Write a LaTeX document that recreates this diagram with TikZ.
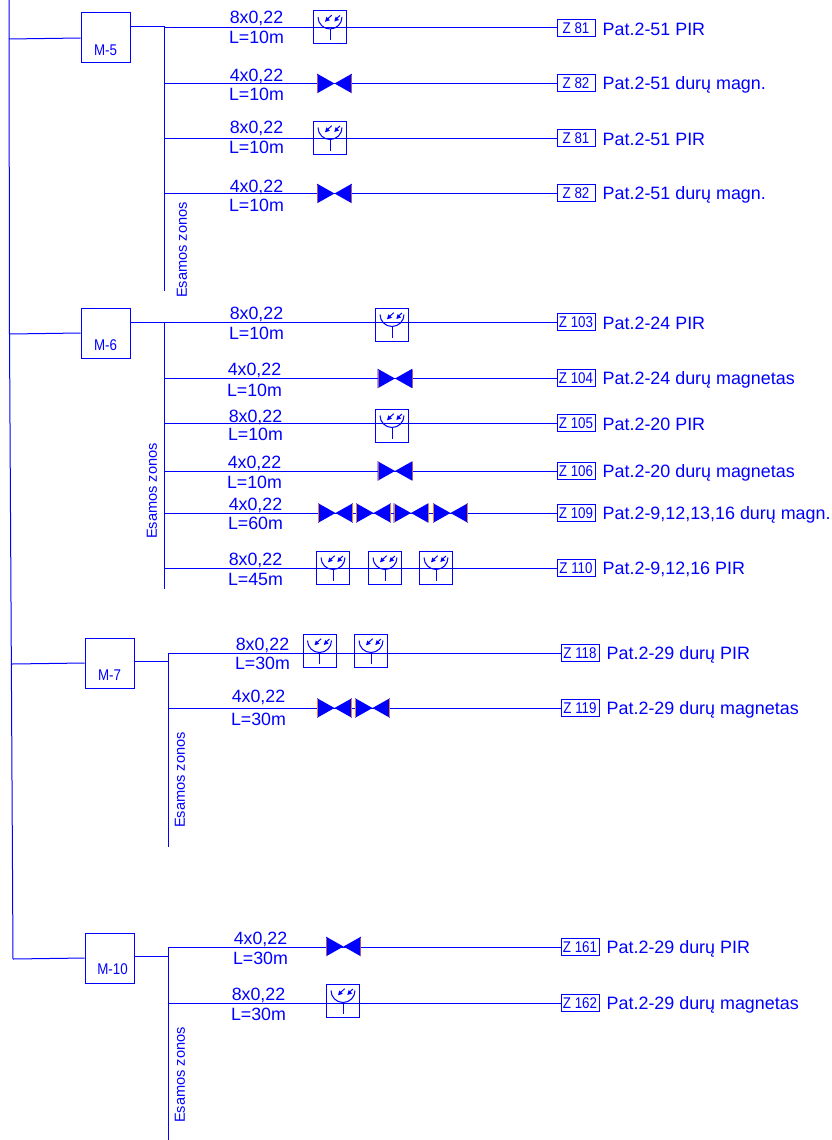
\documentclass[tikz,border=0pt]{standalone}
\usepackage{fontspec}
\setmainfont{Liberation Sans}
\newfontfamily\narrowcad[FakeStretch=0.86]{Liberation Sans}
\definecolor{cad}{RGB}{0,0,255}
\definecolor{edgeo}{RGB}{235,130,50}
\definecolor{edgeb}{RGB}{170,90,120}
\tikzset{
 wire/.style={draw=cad,line width=1pt},
 panel/.style={draw=cad,line width=1pt,minimum width=49pt,minimum height=50pt,inner sep=0pt},
 panellab/.style={text=cad,font=\narrowcad\fontsize{15.5}{15.5}\selectfont,inner sep=0pt},
 zone/.style={draw=cad,line width=1pt,minimum width=38pt,minimum height=17pt,inner sep=0pt,text=cad,font=\narrowcad\fontsize{15.5}{15.5}\selectfont},
 desc/.style={text=cad,anchor=west,inner sep=0pt,yshift=-1.5pt,font=\fontsize{17.9}{17.9}\selectfont},
 wlab/.style={text=cad,inner sep=0pt,yshift=-1.3pt,xshift=0.5pt,font=\fontsize{17.8}{17.8}\selectfont},
 vlab/.style={text=cad,inner sep=0pt,rotate=90,font=\fontsize{14.6}{14.6}\selectfont},
 pirbox/.style={draw=cad,line width=1pt,minimum size=33pt,inner sep=0pt},
}
% #1 name, #2 x, #3 y
\newcommand{\pirsym}[3]{%
 \node[pirbox] (#1) at (#2,#3) {};
 \begin{scope}[shift={(#2,#3)}]
  \draw[wire] (-12,-10.5) arc[start angle=180,end angle=0,radius=12];
  \draw[wire] (0,1.5) -- (0,13);
  \fill[cad] (-5,-5.7) -- (-3.6,-10.6) -- (-0.2,-7.2) -- cycle;
  \fill[cad] (4.3,-6) -- (5.7,-10.9) -- (9.1,-7.5) -- cycle;
  \draw[wire] (-3,-8) -- (1.7,-12.3);
  \draw[wire] (6,-8.5) -- (10,-12);
 \end{scope}}
% #1 name, #2 x, #3 y, #4 edge colour
\newcommand{\valvesym}[4]{%
 \coordinate (#1) at (#2,#3);
 \begin{scope}[shift={(#2,#3)}]
  \fill[cad] (-17.4,-9.8) -- (0,0) -- (-17.4,9.8) -- cycle;
  \fill[cad] (17.4,-9.8) -- (0,0) -- (17.4,9.8) -- cycle;
  \draw[#4,line width=0.9pt] (-17,-9) -- (-17,9);
  \draw[#4,line width=0.9pt] (17,-9) -- (17,9);
 \end{scope}}
% #1 row id, #2 bus x, #3 y, #4 zone x, #5 zone text, #6 description
\newcommand{\zonerow}[6]{%
 \coordinate (c#1) at (#2,#3);
 \node[zone] (z#1) at (#4,#3) {#5};
 \node[desc] (d#1) at ([xshift=7pt]z#1.east) {#6};
 \draw[wire] (c#1) -- (z#1.west);}
% #1 row id, #2 x, #3 y top, #4 y bottom, #5 top, #6 bottom
\newcommand{\wirelab}[6]{%
 \node[wlab] (t#1) at (#2,#3) {#5};
 \node[wlab] (b#1) at (#2,#4) {#6};}
\begin{document}
\begin{tikzpicture}[x=1pt,y=-1pt]
\useasboundingbox (0,0) rectangle (831,1140);
% main riser
\coordinate (rtop) at (9,0);
\coordinate (r5) at (9,39);
\coordinate (r6) at (9.5,334);
\coordinate (r7) at (12,664);
\coordinate (r10) at (13,959);
\draw[wire] (rtop) -- (r6) -- (r10);
% panels
\node[panel] (m5) at (105.5,38) {};
\node[panel] (m6) at (105.5,333) {};
\node[panel] (m7) at (109.5,663) {};
\node[panel] (m10) at (109.5,958) {};
\node[panellab] (lm5) at (105.5,50.5) {M-5};
\node[panellab] (lm6) at (105.5,345) {M-6};
\node[panellab] (lm7) at (109.5,675) {M-7};
\node[panellab] (lm10) at (112.5,969.5) {M-10};
\draw[wire] (r5) -- (m5.west);
\draw[wire] (r6) -- (m6.west);
\draw[wire] (r7) -- (m7.west);
\draw[wire] (r10) -- (m10.west);
% buses
\coordinate (b5a) at (164,26); \coordinate (b5b) at (164,291);
\coordinate (b6a) at (164,322); \coordinate (b6b) at (164,589);
\coordinate (b7a) at (168,653); \coordinate (b7b) at (168,847);
\coordinate (b10a) at (168,947); \coordinate (b10b) at (168,1140);
\draw[wire] (b5a) -- (b5b);
\draw[wire] (b6a) -- (b6b);
\draw[wire] (b7a) -- (b7b);
\draw[wire] (b10a) -- (b10b);
\draw[wire] (m5.east |- 0,27) -- (164,27);
\draw[wire] (m6.east |- 0,322) -- (164,322);
\draw[wire] (m7.east |- 0,661) -- (168,661);
\draw[wire] (m10.east |- 0,956) -- (168,956);
\node[vlab] (v5) at (182,250) {Esamos zonos};
\node[vlab] (v6) at (152,491) {Esamos zonos};
\node[vlab] (v7) at (180,780) {Esamos zonos};
\node[vlab] (v10) at (180,1075) {Esamos zonos};
% rows
\zonerow{a}{164}{28}{576}{Z 81}{Pat.2-51 PIR}
\zonerow{b}{164}{83}{576}{Z 82}{Pat.2-51 durų magn.}
\zonerow{c}{164}{138}{576}{Z 81}{Pat.2-51 PIR}
\zonerow{d}{164}{193}{576}{Z 82}{Pat.2-51 durų magn.}
\zonerow{e}{164}{322}{576}{Z 103}{Pat.2-24 PIR}
\zonerow{f}{164}{378}{576}{Z 104}{Pat.2-24 durų magnetas}
\zonerow{g}{164}{423}{576}{Z 105}{Pat.2-20 PIR}
\zonerow{h}{164}{471}{576}{Z 106}{Pat.2-20 durų magnetas}
\zonerow{i}{164}{513}{576}{Z 109}{Pat.2-9,12,13,16 durų magn.}
\zonerow{j}{164}{568}{576}{Z 110}{Pat.2-9,12,16 PIR}
\zonerow{k}{168}{653}{580}{Z 118}{Pat.2-29 durų PIR}
\zonerow{l}{168}{708}{580}{Z 119}{Pat.2-29 durų magnetas}
\zonerow{m}{168}{947}{580}{Z 161}{Pat.2-29 durų PIR}
\zonerow{n}{168}{1003}{580}{Z 162}{Pat.2-29 durų magnetas}
% wire labels
\wirelab{a}{256}{17}{36}{8x0,22}{L=10m}
\wirelab{b}{256}{75}{93}{4x0,22}{L=10m}
\wirelab{c}{256}{127}{146}{8x0,22}{L=10m}
\wirelab{d}{256}{186}{204}{4x0,22}{L=10m}
\wirelab{e}{256}{313}{332}{8x0,22}{L=10m}
\wirelab{f}{254}{369}{389}{4x0,22}{L=10m}
\wirelab{g}{255}{416}{433}{8x0,22}{L=10m}
\wirelab{h}{254}{462}{481}{4x0,22}{L=10m}
\wirelab{i}{255}{504}{522}{4x0,22}{L=60m}
\wirelab{j}{255}{559}{578}{8x0,22}{L=45m}
\wirelab{k}{262}{644}{662}{8x0,22}{L=30m}
\wirelab{l}{258}{696}{718}{4x0,22}{L=30m}
\wirelab{m}{260}{938}{957}{4x0,22}{L=30m}
\wirelab{n}{258}{994}{1013}{8x0,22}{L=30m}
% devices
\pirsym{p1}{330}{27.5}
\valvesym{v1}{334.5}{83.5}{edgeb}
\pirsym{p2}{330}{138}
\valvesym{v2}{334.5}{193.5}{edgeb}
\pirsym{p3}{392}{325}
\valvesym{v3}{395}{378.5}{edgeb}
\pirsym{p4}{392}{426}
\valvesym{v4}{395}{471}{edgeb}
\valvesym{v5}{335.5}{513}{edgeo}
\valvesym{v6}{373.5}{513}{edgeo}
\valvesym{v7}{411}{513}{edgeo}
\valvesym{v8}{450.5}{513}{edgeo}
\pirsym{p5}{333}{568}
\pirsym{p6}{385}{568}
\pirsym{p7}{436}{568}
\pirsym{p8}{319.5}{651}
\pirsym{p9}{371}{651}
\valvesym{v9}{334.5}{708}{edgeo}
\valvesym{v10}{372.5}{708}{edgeo}
\valvesym{v11}{343.5}{946.5}{edgeb}
\pirsym{p10}{343}{1001}
\end{tikzpicture}
\end{document}
